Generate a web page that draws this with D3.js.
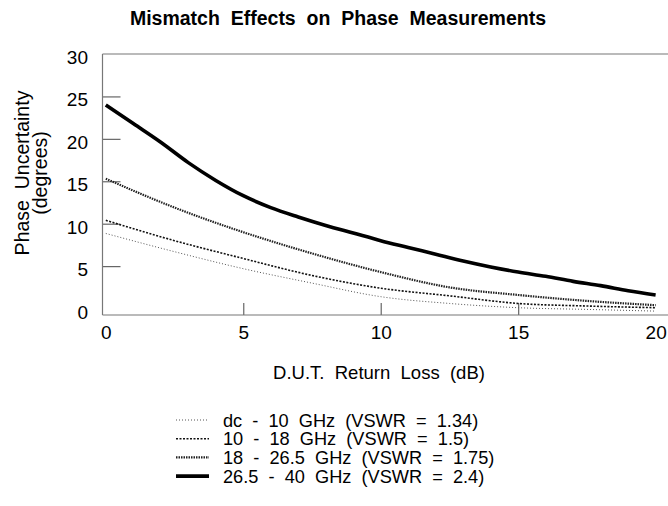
<!DOCTYPE html>
<html><head><meta charset="utf-8">
<script src="https://cdn.jsdelivr.net/npm/d3@7"></script>
<style>
body{margin:0;background:#fff;}
text{font-family:"Liberation Sans",Arial,Helvetica,sans-serif;white-space:pre;}
</style></head>
<body><svg id="c" width="668" height="506"></svg>
<script>
// ---- data ----
const xTicks = [0, 5, 10, 15, 20];
const yTicks = [0, 5, 10, 15, 20, 25, 30];
const seriesNames = [
  "dc  -  10  GHz  (VSWR  =  1.34)",
  "10  -  18  GHz  (VSWR  =  1.5)",
  "18  -  26.5  GHz  (VSWR  =  1.75)",
  "26.5  -  40  GHz  (VSWR  =  2.4)"
];
const returnLoss = [0, 2.5, 5, 7.5, 10, 12.5, 15, 17.5, 20];
const vswr134 = [8.85, 6.7, 4.7, 3.0, 1.4, 0.6, 0.1, -0.1, -0.3];
const vswr150 = [10.4, 8.0, 5.9, 3.9, 2.4, 1.5, 0.6, 0.3, 0.1];
const vswr175 = [15.3, 11.9, 9.0, 6.5, 4.3, 2.5, 1.6, 0.9, 0.4];
const returnLossFine = [0,1,2,3,4,5,6,7,8,9,10,11,12,13,14,15,16,17,18,19,20];
const vswr240 = [24.0, 21.8, 19.6, 17.2, 15.1, 13.3, 11.9, 10.8, 9.8, 8.9, 8.0, 7.2, 6.4, 5.6, 4.9, 4.3, 3.8, 3.2, 2.7, 2.1, 1.6];

const title = "Mismatch  Effects  on  Phase  Measurements";
const xTitle = "D.U.T.  Return  Loss  (dB)";
const yTitle1 = "Phase  Uncertainty";
const yTitle2 = "(degrees)";

(function(){
const svg = d3.select("#c");
const pL = 102.5, pR = 668, pT = 54, pB = 315;
const x = d3.scaleLinear().domain([-0.12, 20.45]).range([pL, pR]);
const y = d3.scaleLinear().domain([-0.76, 30]).range([pB, pT]);

const styles = [
  {stroke:"#555", width:1, dash:"1,2"},
  {stroke:"#111", width:1.6, dash:"2,1.5"},
  {stroke:"#222", width:2.2, dash:"1.5,1"},
  {stroke:"#000", width:3.6, dash:null}
];

svg.append("text").attr("x", 338).attr("y", 25).attr("text-anchor","middle")
  .attr("font-size", 19.5).attr("font-weight","bold").text(title);

const yAxis = d3.axisLeft(y).tickValues(yTicks).tickSize(-18).tickPadding(14.5).tickFormat(d3.format("d"));
const gy = svg.append("g").attr("transform", `translate(${pL},0)`).call(yAxis);
gy.select(".domain").remove();
gy.selectAll(".tick line").attr("stroke","#666").attr("stroke-width",1.2)
  .attr("display", d => (d === 0 || d === 30) ? "none" : null);
gy.selectAll(".tick text").attr("font-size",19).attr("fill","#000").attr("dy","0.5em")
  .style("font-family","Liberation Sans, Arial, sans-serif");

const xAxis = d3.axisBottom(x).tickValues(xTicks).tickSize(-12).tickPadding(6).tickFormat(d3.format("d"));
const gx = svg.append("g").attr("transform", `translate(0,${pB})`).call(xAxis);
gx.select(".domain").remove();
gx.selectAll(".tick line").attr("stroke","#666").attr("stroke-width",1.2)
  .attr("display", d => (d === 0 || d === 20) ? "none" : null);
gx.selectAll(".tick text").attr("font-size",19).attr("fill","#000").attr("dy","0.95em")
  .style("font-family","Liberation Sans, Arial, sans-serif");

const frame = svg.append("g").attr("stroke","#777").attr("stroke-width",1.2).attr("fill","none");
frame.append("line").attr("x1",pL).attr("x2",pL).attr("y1",pT).attr("y2",pB);
frame.append("line").attr("x1",pL).attr("x2",pR).attr("y1",pT).attr("y2",pT);
frame.append("line").attr("x1",pL).attr("x2",pR).attr("y1",pB).attr("y2",pB);

const line = d3.line().x(d => x(d[0])).y(d => y(d[1])).curve(d3.curveMonotoneX);
const data = [
  d3.zip(returnLoss, vswr134),
  d3.zip(returnLoss, vswr150),
  d3.zip(returnLoss, vswr175),
  d3.zip(returnLossFine, vswr240)
];
data.forEach((d, i) => {
  const s = styles[i];
  svg.append("path").attr("d", line(d)).attr("fill","none")
    .attr("stroke", s.stroke).attr("stroke-width", s.width)
    .attr("stroke-dasharray", s.dash);
});

svg.append("text").attr("x", 379).attr("y", 379).attr("text-anchor","middle")
  .attr("font-size", 18.5).text(xTitle);
svg.append("text").attr("transform","translate(28.5,173) rotate(-90)").attr("text-anchor","middle")
  .attr("font-size", 19.5).text(yTitle1);
svg.append("text").attr("transform","translate(46.5,173) rotate(-90)").attr("text-anchor","middle")
  .attr("font-size", 19.5).text(yTitle2);

const lg = svg.append("g");
seriesNames.forEach((name, i) => {
  const yy = 420 + i * 18.7;
  const s = styles[i];
  lg.append("line").attr("x1",176).attr("x2",209).attr("y1",yy).attr("y2",yy)
    .attr("stroke", s.stroke).attr("stroke-width", s.width).attr("stroke-dasharray", s.dash);
  lg.append("text").attr("x",223).attr("y",yy + 6.5).attr("font-size",18.2).text(name);
});
})();
</script></body></html>
